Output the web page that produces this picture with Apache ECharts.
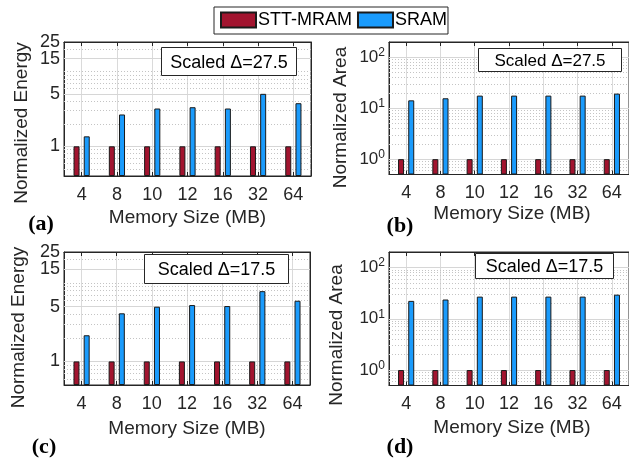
<!DOCTYPE html>
<html><head><meta charset="utf-8">
<script src="https://cdn.jsdelivr.net/npm/echarts@6/dist/echarts.min.js"></script>
<style>html,body{margin:0;padding:0;background:#fff}#c{width:629px;height:458px}</style>
</head><body><div id="c"></div>
<script>
// ---------- data ----------
const categories = ['4', '8', '10', '12', '16', '32', '64'];
const seriesNames = ['STT-MRAM', 'SRAM'];
const sttEnergyA = [1, 1, 1, 1, 1, 1, 1];
const sramEnergyA = [1.36, 2.67, 3.21, 3.34, 3.21, 5.05, 3.78];
const sttAreaB = [1, 1, 1, 1, 1, 1, 1];
const sramAreaB = [14.3, 15.7, 17.7, 17.7, 17.7, 17.7, 19.4];
const sttEnergyC = [1, 1, 1, 1, 1, 1, 1];
const sramEnergyC = [2.16, 4.12, 5.0, 5.25, 5.1, 7.9, 5.96];
const sttAreaD = [1, 1, 1, 1, 1, 1, 1];
const sramAreaD = [22.3, 23.7, 27.0, 27.0, 27.0, 27.0, 29.5];
const energyTicks = [1, 5, 15, 25];
const energyTopTick = [25];
const areaTicks = [1, 10, 100];
const energyMinorGridA = [0.5, 0.6, 0.7, 0.8, 0.9, 2, 3, 4, 6, 7, 8, 9, 10, 20];
const energyMinorGridC = [0.6, 0.7, 0.8, 0.9, 2, 3, 4, 6, 7, 8, 9, 10, 20];
const areaMinorGrid = [0.6, 0.7, 0.8, 0.9, 2, 3, 4, 5, 6, 7, 8, 9, 20, 30, 40, 50, 60, 70, 80, 90];
const panelLabels = ['(a)', '(b)', '(c)', '(d)'];
const deltaLabels = ['Scaled \u0394=27.5', 'Scaled \u0394=27.5', 'Scaled \u0394=17.5', 'Scaled \u0394=17.5'];
const xTitle = 'Memory Size (MB)';
const yTitles = ['Normalized Energy', 'Normalized Area', 'Normalized Energy', 'Normalized Area'];

// ---------- layout / style ----------
const FONT = '"Liberation Sans", Arial, sans-serif';
const INK = '#262626';
const RED = '#A2142F';
const BLUE = '#1A9BFC';
const panels = [
  { left: 64, top: 42, width: 247, height: 134, min: 0.4, max: 25, ticks: energyTicks, major: [5, 15], minor: energyMinorGridA, stt: sttEnergyA, sram: sramEnergyA, area: false,
    box: [161.5, 47.5, 135, 28, 18], lab: [41, 224], xt: [187.5, 218], yt: [21.5, 123] },
  { left: 389, top: 42, width: 247, height: 132.5, min: 0.5, max: 200, ticks: areaTicks, major: [10, 100], minor: areaMinorGrid, stt: sttAreaB, sram: sramAreaB, area: true,
    box: [478.5, 48.5, 143, 23, 17], lab: [400, 226], xt: [512, 214], yt: [340.5, 117.5] },
  { left: 64, top: 252, width: 246, height: 133, min: 0.5, max: 25, ticks: energyTicks, major: [5, 15], minor: energyMinorGridC, stt: sttEnergyC, sram: sramEnergyC, area: false,
    box: [144.5, 254.5, 144, 29, 18], lab: [44, 447], xt: [187, 429], yt: [19, 327.5] },
  { left: 389, top: 252, width: 247, height: 133.5, min: 0.5, max: 200, ticks: areaTicks, major: [10, 100], minor: areaMinorGrid, stt: sttAreaD, sram: sramAreaD, area: true,
    box: [475.5, 253.5, 138, 25, 18], lab: [400, 447], xt: [512, 428], yt: [337, 335] }
];

const grid = [], xAxis = [], yAxis = [], series = [], graphic = [];
panels.forEach((p, i) => {
  grid.push({ left: p.left, top: p.top, width: p.width, height: p.height, show: true, borderColor: INK, borderWidth: 1, backgroundColor: 'rgba(0,0,0,0)' });
  xAxis.push({
    type: 'category', gridIndex: i, data: categories, boundaryGap: true,
    axisLine: { show: true, lineStyle: { color: INK, width: 1 } },
    axisTick: { show: true, inside: true, alignWithLabel: true, length: 4, lineStyle: { color: INK } },
    axisLabel: { fontSize: 18, color: INK, fontFamily: FONT, margin: 10 },
    splitLine: { show: true, alignWithLabel: true, lineStyle: { color: '#dadada', width: 1 } }
  });
  xAxis.push({
    type: 'category', gridIndex: i, data: categories, position: 'top', boundaryGap: true,
    axisLine: { show: true, lineStyle: { color: INK, width: 1 } },
    axisTick: { show: true, inside: true, alignWithLabel: true, length: 4, lineStyle: { color: INK } },
    axisLabel: { show: false }, splitLine: { show: false }
  });
  const labelTicks = p.area ? p.ticks : p.ticks.filter(v => energyTopTick.indexOf(v) < 0);
  const yLabel = p.area
    ? { customValues: labelTicks, fontSize: 17, color: INK, fontFamily: FONT, margin: 4,
        formatter: v => '10{s|' + Math.round(Math.log10(v)) + '}',
        rich: { s: { fontSize: 12, color: INK, fontFamily: FONT, padding: [0, 0, 9, 0] } } }
    : { customValues: labelTicks, fontSize: 18, color: INK, fontFamily: FONT, margin: 4 };
  yAxis.push({
    type: 'log', logBase: 10, gridIndex: i, min: p.min, max: p.max, startValue: p.min,
    axisLine: { show: true, lineStyle: { color: INK, width: 1 } },
    axisTick: { show: true, inside: true, length: 4, customValues: p.ticks, lineStyle: { color: INK } },
    axisLabel: yLabel,
    splitLine: { show: false }
  });
  yAxis.push({
    type: 'log', logBase: 10, gridIndex: i, min: p.min, max: p.max, position: 'right',
    axisLine: { show: true, lineStyle: { color: INK, width: 1 } },
    axisTick: { show: true, inside: true, length: 4, customValues: p.ticks, lineStyle: { color: INK } },
    axisLabel: { show: false, customValues: p.ticks }, splitLine: { show: false }
  });
  // extra left axis carrying only the top energy label (25), so it is not hidden by overlap logic
  yAxis.push({
    type: 'log', logBase: 10, gridIndex: i, min: p.min, max: p.max, position: 'left', offset: 0,
    axisLine: { show: false }, axisTick: { show: false }, splitLine: { show: false },
    axisLabel: p.area ? { show: false, customValues: p.ticks }
      : { show: true, customValues: energyTopTick, fontSize: 18, color: INK, fontFamily: FONT, margin: 4, showMaxLabel: true }
  });
  const gridLines = p.major.map(v => ({ yAxis: v, lineStyle: { type: 'solid', color: '#d6d6d6', width: 1 } }))
    .concat(p.minor.map(v => ({ yAxis: v, lineStyle: { type: [1, 2], color: '#c4c4c4', width: 1 } })));
  gridLines.push({ yAxis: 1, lineStyle: { type: 'solid', color: '#d6d6d6', width: 1 } });
  series.push({
    name: seriesNames[0], type: 'bar', xAxisIndex: 2 * i, yAxisIndex: 3 * i, data: p.stt,
    barWidth: 6, barGap: '70%',
    itemStyle: { color: RED, borderColor: '#1a1a1a', borderWidth: 1 },
    markLine: { silent: true, symbol: 'none', z: 1, animation: false, label: { show: false }, data: gridLines }
  });
  series.push({
    name: seriesNames[1], type: 'bar', xAxisIndex: 2 * i, yAxisIndex: 3 * i, data: p.sram,
    barWidth: 6, barGap: '70%',
    itemStyle: { color: BLUE, borderColor: '#1a1a1a', borderWidth: 1 }
  });
  // annotation box
  const b = p.box;
  graphic.push({ type: 'rect', z: 100, shape: { x: b[0], y: b[1], width: b[2], height: b[3] }, style: { fill: '#fff', stroke: INK, lineWidth: 1 } });
  graphic.push({ type: 'text', z: 101, x: b[0] + b[2] / 2, y: b[1] + b[3] / 2 + 1.5,
    style: { text: deltaLabels[i], font: b[4] + 'px ' + FONT, fill: '#000', align: 'center', verticalAlign: 'middle' } });
  graphic.push({ type: 'text', z: 101, x: p.lab[0], y: p.lab[1],
    style: { text: panelLabels[i], font: 'bold 22px "Liberation Serif", "Times New Roman", serif', fill: '#000', align: 'center', verticalAlign: 'middle' } });
  graphic.push({ type: 'text', z: 101, x: p.xt[0], y: p.xt[1],
    style: { text: xTitle, font: '19px ' + FONT, fill: INK, align: 'center', verticalAlign: 'middle' } });
  graphic.push({ type: 'text', z: 101, x: p.yt[0], y: p.yt[1], rotation: Math.PI / 2,
    style: { text: yTitles[i], font: '19px ' + FONT, fill: INK, align: 'center', verticalAlign: 'middle' } });
});

const chart = echarts.init(document.getElementById('c'), null, { renderer: 'canvas' });
chart.setOption({
  animation: false,
  backgroundColor: '#fff',
  textStyle: { fontFamily: FONT },
  legend: {
    data: seriesNames, left: 214, top: 7, orient: 'horizontal',
    itemWidth: 35, itemHeight: 15, itemGap: 5,
    padding: [4, 1, 5, 6],
    borderColor: INK, borderWidth: 1, backgroundColor: '#fff',
    textStyle: { fontSize: 18, color: '#000', fontFamily: FONT, padding: [0, 0, 0, -3] },
    icon: 'rect', selectedMode: false
  },
  grid, xAxis, yAxis, series, graphic
});
</script></body></html>
